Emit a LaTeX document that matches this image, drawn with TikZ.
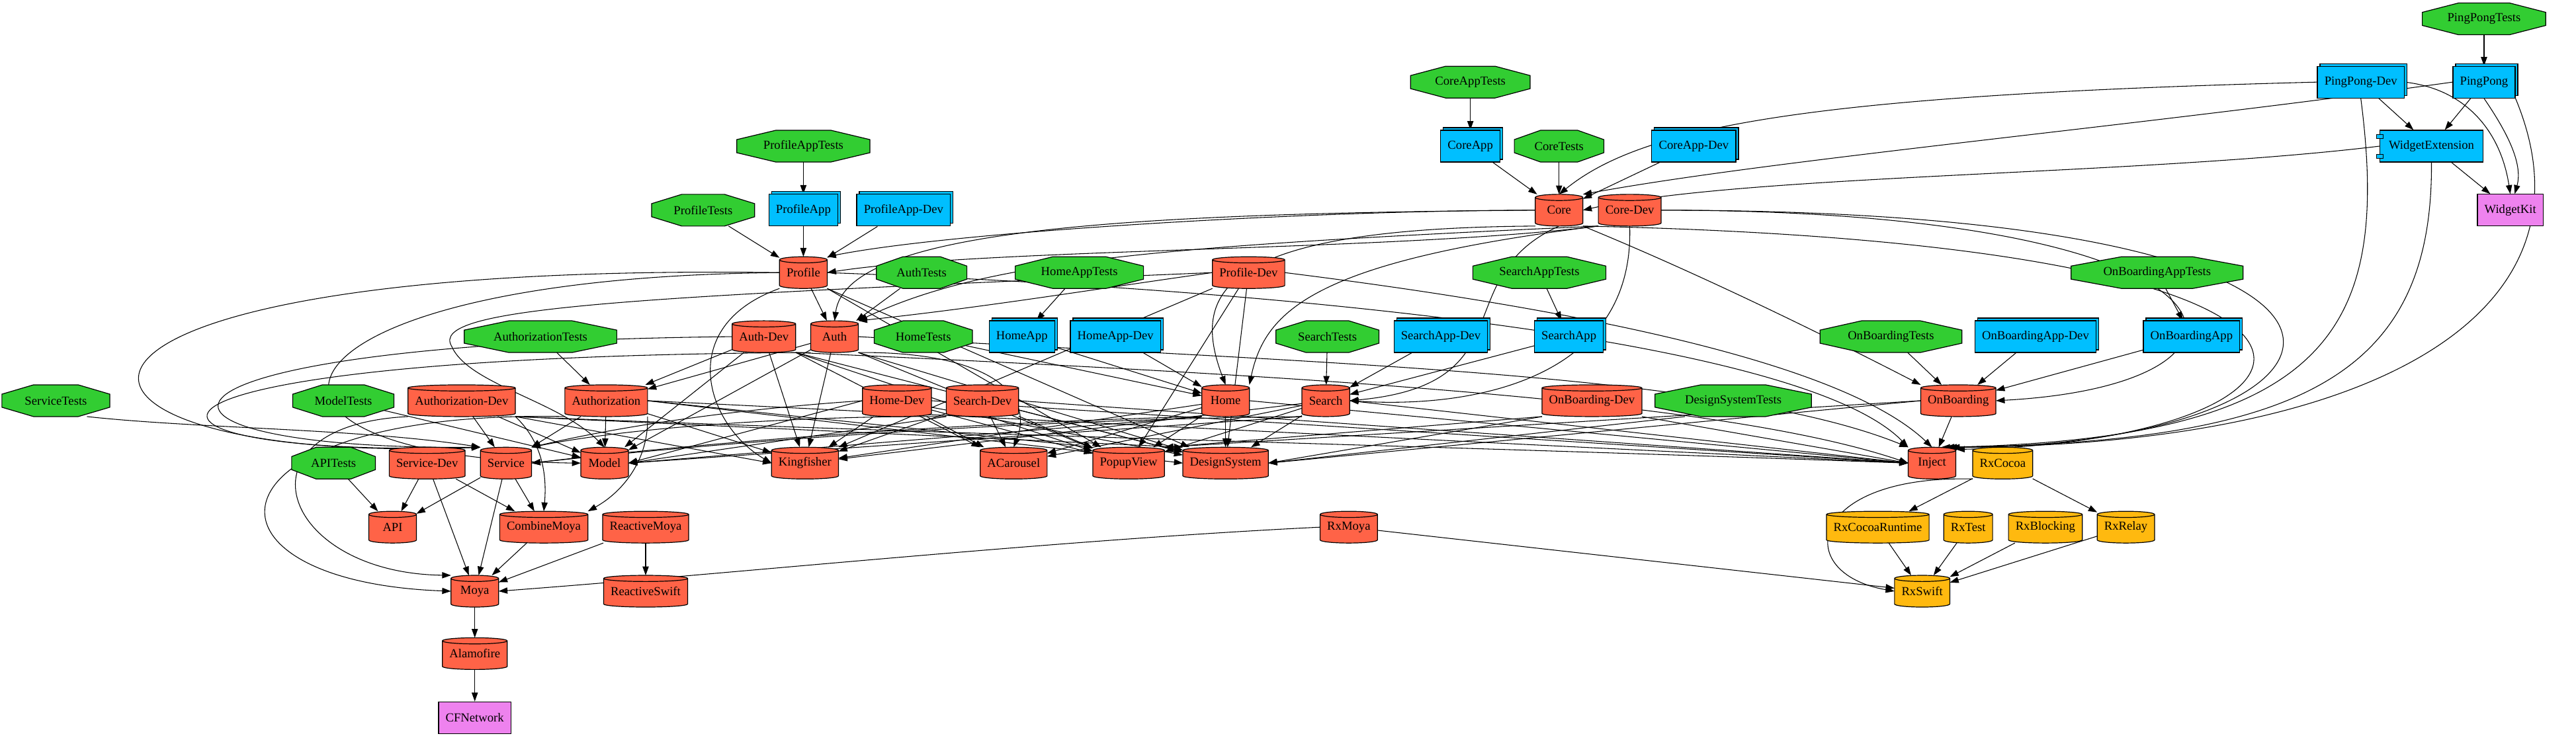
\documentclass[tikz,border=0pt]{standalone}
\usepackage{fontspec}
\setmainfont{Liberation Serif}
\usepackage{tikz}
\usetikzlibrary{arrows.meta, calc, shadows, backgrounds}
\pgfdeclarelayer{edges}
\pgfsetlayers{edges,background,main}

\definecolor{fwred}{HTML}{FF6347}
\definecolor{tstgreen}{HTML}{32CD32}
\definecolor{appblue}{HTML}{00BFFF}
\definecolor{extgold}{HTML}{FFB90F}
\definecolor{sdkviolet}{HTML}{EE82EE}

\newcommand{\graphfont}{\fontsize{14}{16}\selectfont}
% test target: label node, octagon drawn behind it
\newcommand{\testnode}[3]{%
  \node[tst] (#1) at (#2) {#3};
  \begin{scope}[on background layer]
    \filldraw[octo] let \p1=(#1.west), \p2=(#1.east), \n1={0.707*(\x2-\x1)+11.3pt}, \n2={0.293*(\x2-\x1)+4.68pt} in
      ($(#1.center)+(-\n2,18pt)$) -- ($(#1.center)+(\n2,18pt)$) -- ($(#1.center)+(\n1,7.45pt)$)
      -- ($(#1.center)+(\n1,-7.45pt)$) -- ($(#1.center)+(\n2,-18pt)$) -- ($(#1.center)+(-\n2,-18pt)$)
      -- ($(#1.center)+(-\n1,-7.45pt)$) -- ($(#1.center)+(-\n1,7.45pt)$) -- cycle;
  \end{scope}}
% framework / package: label node, cylinder drawn behind it
\newcommand{\cylnode}[4]{%
  \node[cyl] (#2) at (#3) {#4};
  \begin{scope}[on background layer]
    \filldraw[fill=#1, line width=0.9pt] let \p1=(#2.north west), \p2=(#2.south east), \n1={(\x2-\x1)/2} in
      (\x1,\y1-3.5pt) -- (\x1,\y2+3.5pt) arc[start angle=180, end angle=360, x radius=\n1, y radius=3.5pt]
      -- (\x2,\y1-3.5pt) arc[start angle=0, end angle=180, x radius=\n1, y radius=3.5pt] -- cycle
      (\x1,\y1-3.5pt) arc[start angle=180, end angle=360, x radius=\n1, y radius=3.5pt];
  \end{scope}}

\begin{document}
\begin{tikzpicture}[
  x=1.8626pt, y=1.8626pt,
  >={Triangle[length=10pt, width=7pt]},
  every node/.style={font=\graphfont},
  cyl/.style={rectangle, minimum width=54pt, minimum height=36pt, inner xsep=8pt, inner ysep=4pt, outer sep=0pt},
  app/.style={rectangle, draw, line width=0.9pt, fill=appblue, minimum width=54pt, minimum height=36pt, inner xsep=8pt, copy shadow={shadow xshift=3pt, shadow yshift=3pt, fill=appblue, draw=black, line width=0.9pt}},
  comp/.style={rectangle, draw, line width=0.9pt, fill=appblue, minimum width=54pt, minimum height=36pt, inner xsep=10pt},
  sdk/.style={rectangle, draw, line width=0.9pt, fill=sdkviolet, minimum width=54pt, minimum height=36pt, inner xsep=8pt},
  tst/.style={rectangle, minimum height=36pt, inner sep=0pt, outer sep=0pt},
  octo/.style={fill=tstgreen, draw, line width=0.9pt},
  dep/.style={->, line width=0.8pt}
]
\useasboundingbox (0,0) rectangle (1568,449);
\begin{pgfonlayer}{edges}
  \fill[white] (0,0) rectangle (1568,449);
\end{pgfonlayer}

% rank 0-3
\testnode{pptests}{1512,437.5}{PingPongTests}
\testnode{coreapptests}{895,399}{CoreAppTests}
\node[app] (ppdev) at (1437,399) {PingPong-Dev};
\node[app] (pp) at (1512,399) {PingPong};
\testnode{profileapptests}{489,360}{ProfileAppTests}
\node[app] (coreapp) at (895,360) {CoreApp};
\testnode{coretests}{949,360}{CoreTests}
\node[app] (coreappdev) at (1031,360) {CoreApp-Dev};
\node[comp] (widgetext) at (1480,360) {WidgetExtension};
\draw[fill=appblue] ([xshift=-3.5pt,yshift=-5pt]widgetext.north west) rectangle ++(7pt,-4.5pt);
\draw[fill=appblue] ([xshift=-3.5pt,yshift=5pt]widgetext.south west) rectangle ++(7pt,4.5pt);
\testnode{profiletests}{428,321}{ProfileTests}
\node[app] (profileapp) at (489,321) {ProfileApp};
\node[app] (profileappdev) at (550,321) {ProfileApp-Dev};
\cylnode{fwred}{core}{949,321}{Core}
\cylnode{fwred}{coredev}{992,321}{Core-Dev}
\node[sdk] (widgetkit) at (1528,321) {WidgetKit};

% rank 4-5
\cylnode{fwred}{profile}{489,283}{Profile}
\testnode{authtests}{561,283}{AuthTests}
\testnode{homeapptests}{657,283}{HomeAppTests}
\cylnode{fwred}{profiledev}{760,283}{Profile-Dev}
\testnode{searchapptests}{937,283}{SearchAppTests}
\testnode{onbapptests}{1313,283}{OnBoardingAppTests}
\testnode{authorizationtests}{329,244}{AuthorizationTests}
\cylnode{fwred}{authdev}{465,244}{Auth-Dev}
\cylnode{fwred}{auth}{508,244}{Auth}
\testnode{hometests}{562,244}{HomeTests}
\node[app] (homeapp) at (622,244) {HomeApp};
\node[app] (homeappdev) at (679,244) {HomeApp-Dev};
\testnode{searchtests}{808,244}{SearchTests}
\node[app] (searchappdev) at (877,244) {SearchApp-Dev};
\node[app] (searchapp) at (955,244) {SearchApp};
\testnode{onbtests}{1151,244}{OnBoardingTests}
\node[app] (onbappdev) at (1239,244) {OnBoardingApp-Dev};
\node[app] (onbapp) at (1334,244) {OnBoardingApp};

% rank 6-7
\testnode{servicetests}{34,205}{ServiceTests}
\testnode{modeltests}{209,205}{ModelTests}
\cylnode{fwred}{authzdev}{281,205}{Authorization-Dev}
\cylnode{fwred}{authz}{369,205}{Authorization}
\cylnode{fwred}{homedev}{546,205}{Home-Dev}
\cylnode{fwred}{searchdev}{598,205}{Search-Dev}
\cylnode{fwred}{home}{746,205}{Home}
\cylnode{fwred}{search}{807,205}{Search}
\cylnode{fwred}{onbdev}{969,205}{OnBoarding-Dev}
\testnode{dstests}{1055,205}{DesignSystemTests}
\cylnode{fwred}{onb}{1192,205}{OnBoarding}
\testnode{apitests}{203,167}{APITests}
\cylnode{fwred}{servicedev}{260,167}{Service-Dev}
\cylnode{fwred}{service}{308,167}{Service}
\cylnode{fwred}{model}{368,167}{Model}
\cylnode{fwred}{kingfisher}{490,167}{Kingfisher}
\cylnode{fwred}{acarousel}{617,167}{ACarousel}
\cylnode{fwred}{popupview}{687,167}{PopupView}
\cylnode{fwred}{designsystem}{746,167}{DesignSystem}
\cylnode{fwred}{inject}{1176,167}{Inject}
\cylnode{extgold}{rxcocoa}{1219,167}{RxCocoa}

% rank 8-11
\cylnode{fwred}{api}{239,128}{API}
\cylnode{fwred}{combinemoya}{331,128}{CombineMoya}
\cylnode{fwred}{reactivemoya}{393,128}{ReactiveMoya}
\cylnode{fwred}{rxmoya}{821,128}{RxMoya}
\cylnode{extgold}{rxcocoaruntime}{1143,128}{RxCocoaRuntime}
\cylnode{extgold}{rxtest}{1198,128}{RxTest}
\cylnode{extgold}{rxblocking}{1245,128}{RxBlocking}
\cylnode{extgold}{rxrelay}{1294,128}{RxRelay}
\cylnode{fwred}{moya}{289,89}{Moya}
\cylnode{fwred}{reactiveswift}{393,89}{ReactiveSwift}
\cylnode{extgold}{rxswift}{1170,89}{RxSwift}
\cylnode{fwred}{alamofire}{289,51}{Alamofire}
\node[sdk] (cfnetwork) at (289,12) {CFNetwork};

\begin{pgfonlayer}{edges}
% app targets
\draw[dep] (pptests) -- (pp);
\draw[dep] (pp) -- (widgetext);
\draw[dep] (ppdev) -- (widgetext);
\draw[dep] (widgetext) -- (widgetkit);
\draw[dep] (pp.south) .. controls (1525,370) and (1536,350) .. ([xshift=5pt]widgetkit.north);
\draw[dep] (ppdev.east) .. controls (1500,395) and (1522,370) .. (widgetkit.north);
\draw[dep] (pp.west) .. controls (1300,372) and (1080,352) .. (core.north east);
\draw[dep] (ppdev.west) .. controls (1100,391) and (1000,372) .. (core.north);
\draw[dep] (widgetext.west) .. controls (1300,342) and (1060,343) .. (core.east);
\draw[dep] (pp.south east) .. controls (1585,260) and (1450,178) .. (inject.40);
\draw[dep] (ppdev.south) .. controls (1455,250) and (1420,182) .. (inject.50);
\draw[dep] (widgetext.south) .. controls (1481,220) and (1400,180) .. (inject.45);
\draw[dep] (coreapptests) -- (coreapp);
\draw[dep] (coreapp) -- (core);
\draw[dep] (coretests) -- (core);
\draw[dep] (coreappdev) -- (core);
\draw[dep] (profileapptests) -- (profileapp);
\draw[dep] (profileapp) -- (profile);
\draw[dep] (profiletests) -- (profile);
\draw[dep] (profileappdev) -- (profile);
\draw[dep] (homeapptests) -- (homeapp);
\draw[dep] (homeapp) -- (home);
\draw[dep] (hometests) -- (home);
\draw[dep] (homeappdev) -- (home);
\draw[dep] (searchapptests) -- (searchapp);
\draw[dep] (searchapp) -- (search);
\draw[dep] (searchtests) -- (search);
\draw[dep] (searchappdev) -- (search);
\draw[dep] (onbapptests) -- (onbapp);
\draw[dep] (onbapp) -- (onb);
\draw[dep] (onbtests) -- (onb);
\draw[dep] (onbappdev) -- (onb);

% core
\draw[dep] (core.west) .. controls (800,321) and (580,308) .. (profile.north east);
\draw[dep] (coredev.south west) .. controls (850,296) and (600,298) .. (profile.east);
\draw[dep] (core.west) .. controls (680,319) and (515,309) .. (auth.north);
\draw[dep] (coredev.south west) .. controls (700,299) and (600,290) .. (auth.north east);
\draw[dep] (core.south west) .. controls (740,310) and (725,270) .. (home.north);
\draw[dep] (coredev.south west) .. controls (800,290) and (770,260) .. (home.north east);
\draw[dep] (core.south) .. controls (880,280) and (930,215) .. (search.east);
\draw[dep] (coredev.south) .. controls (995,220) and (900,200) .. (search.east);
\draw[dep] (core.south east) .. controls (1040,280) and (1120,240) .. (onb.north west);
\draw[dep] (coredev.east) .. controls (1380,321) and (1400,215) .. (onb.east);
\draw[dep] (core.south east) .. controls (1500,300) and (1430,180) .. (inject.30);
\draw[dep] (coredev.east) .. controls (1520,321) and (1450,175) .. (inject.60);

% profile
\draw[dep] (profile) -- (auth);
\draw[dep] (authtests) -- (auth);
\draw[dep] (profiledev.west) .. controls (660,272) and (600,262) .. (auth.north east);
\draw[dep] (profile.west) .. controls (-20,290) and (0,165) .. (service.north west);
\draw[dep] (profile.west) .. controls (150,280) and (120,170) .. (model.west);
\draw[dep] (profiledev.west) .. controls (380,268) and (260,262) .. (275,238) .. controls (285,215) and (340,205) .. (model.north);
\draw[dep] (profile.south west) .. controls (410,250) and (430,190) .. (kingfisher.west);
\draw[dep] (profile.south east) -- (popupview);
\draw[dep] (profile.south east) -- (designsystem);
\draw[dep] (profile.east) .. controls (800,272) and (1100,240) .. (inject.north west);
\draw[dep] (profiledev.south west) -- (kingfisher.north east);
\draw[dep] (profiledev) -- (popupview);
\draw[dep] (profiledev) -- (designsystem);
\draw[dep] (profiledev.east) .. controls (950,262) and (1120,230) .. (inject.north);

% auth
\draw[dep] (authdev) -- (authz);
\draw[dep] (auth) -- (authz);
\draw[dep] (authdev) -- (kingfisher);
\draw[dep] (auth) -- (kingfisher);
\draw[dep] (authdev) -- (model);
\draw[dep] (auth) -- (model);
\draw[dep] (authdev.south east) -- (acarousel.north west);
\draw[dep] (auth.south east) .. controls (600,235) and (630,210) .. (acarousel.north);
\draw[dep] (authdev.south east) -- (popupview);
\draw[dep] (auth.south east) -- (popupview);
\draw[dep] (authdev.south east) -- (designsystem);
\draw[dep] (auth.south east) -- (designsystem);
\draw[dep] (auth.east) .. controls (800,228) and (1050,222) .. (inject.north west);
\draw[dep] (authdev.south east) .. controls (800,220) and (1050,205) .. (inject.west);
\draw[dep] (authdev.west) .. controls (60,240) and (60,175) .. (service.north west);
\draw[dep] (auth.south west) .. controls (40,232) and (50,170) .. (service.north west);

% authorization
\draw[dep] (authorizationtests) -- (authz);
\draw[dep] (authz) -- (model);
\draw[dep] (authzdev) -- (model);
\draw[dep] (authz) -- (service);
\draw[dep] (authzdev) -- (service);
\draw[dep] (authz) -- (kingfisher);
\draw[dep] (authzdev.south east) -- (kingfisher.west);
\draw[dep] (authz.east) -- (designsystem.west);
\draw[dep] (authzdev.south east) -- (designsystem.north west);
\draw[dep] (authz.east) -- (popupview.north west);
\draw[dep] (authz.east) .. controls (700,190) and (850,182) .. (inject.west);
\draw[dep] (authzdev.south east) .. controls (650,182) and (830,179) .. (inject.west);
\draw[dep] (authzdev.south east) .. controls (330,180) and (333,160) .. (combinemoya.north);
\draw[dep] (authz.south east) .. controls (395,170) and (380,150) .. (combinemoya.north east);
\draw[dep] (authzdev.south west) .. controls (140,190) and (170,100) .. (moya.north west);
\draw[dep] (authz.south west) .. controls (120,200) and (110,95) .. (moya.west);

% home and search
\draw[dep] (homedev.west) -- (model.east);
\draw[dep] (searchdev.south west) -- (model.east);
\draw[dep] (home.south west) -- (model.east);
\draw[dep] (search.south west) -- (model.east);
\draw[dep] (homedev.west) .. controls (450,200) and (380,190) .. (service.north east);
\draw[dep] (searchdev.south west) .. controls (500,196) and (390,190) .. (service.north east);
\draw[dep] (home.south west) .. controls (600,192) and (450,182) .. (service.east);
\draw[dep] (search.south west) .. controls (640,194) and (460,182) .. (service.east);
\draw[dep] (homedev) -- (kingfisher);
\draw[dep] (searchdev) -- (kingfisher);
\draw[dep] (home) -- (kingfisher);
\draw[dep] (search) -- (kingfisher);
\draw[dep] (homedev) -- (acarousel);
\draw[dep] (searchdev) -- (acarousel);
\draw[dep] (home) -- (acarousel);
\draw[dep] (search) -- (acarousel);
\draw[dep] (homedev) -- (popupview);
\draw[dep] (searchdev) -- (popupview);
\draw[dep] (home) -- (popupview);
\draw[dep] (search) -- (popupview);
\draw[dep] (homedev) -- (designsystem);
\draw[dep] (searchdev) -- (designsystem);
\draw[dep] (home) -- (designsystem);
\draw[dep] (search) -- (designsystem);
\draw[dep] (homedev.east) -- (inject.west);
\draw[dep] (searchdev.east) -- (inject.west);
\draw[dep] (home.east) -- (inject.west);
\draw[dep] (search.east) -- (inject.west);

% onboarding and design system
\draw[dep] (onb) -- (inject);
\draw[dep] (onb.west) -- (designsystem.east);
\draw[dep] (onb.west) -- (popupview.north east);
\draw[dep] (onbdev.south west) -- (designsystem.east);
\draw[dep] (onbdev.south west) -- (popupview.north east);
\draw[dep] (onbdev.south east) -- (inject.west);
\draw[dep] (dstests.south west) -- (designsystem.east);

% networking
\draw[dep] (servicetests.south east) .. controls (120,188) and (220,188) .. (service.north west);
\draw[dep] (modeltests) -- (model);
\draw[dep] (apitests) -- (api);
\draw[dep] (servicedev) -- (api);
\draw[dep] (service) -- (api);
\draw[dep] (servicedev) -- (combinemoya);
\draw[dep] (service) -- (combinemoya);
\draw[dep] (servicedev) -- (moya);
\draw[dep] (service) -- (moya);
\draw[dep] (combinemoya) -- (moya);
\draw[dep] (reactivemoya) -- (moya);
\draw[dep] (reactivemoya) -- (reactiveswift);
\draw[dep] (rxmoya.west) .. controls (640,120) and (450,100) .. (moya.east);
\draw[dep] (rxmoya) -- (rxswift);
\draw[dep] (moya) -- (alamofire);
\draw[dep] (alamofire) -- (cfnetwork);

% rx
\draw[dep] (rxcocoa) -- (rxcocoaruntime);
\draw[dep] (rxcocoa) -- (rxrelay);
\draw[dep] (rxcocoa.south west) .. controls (1100,160) and (1090,100) .. (rxswift.west);
\draw[dep] (rxcocoaruntime) -- (rxswift);
\draw[dep] (rxtest) -- (rxswift);
\draw[dep] (rxblocking) -- (rxswift);
\draw[dep] (rxrelay) -- (rxswift);
\end{pgfonlayer}
\end{tikzpicture}
\end{document}
